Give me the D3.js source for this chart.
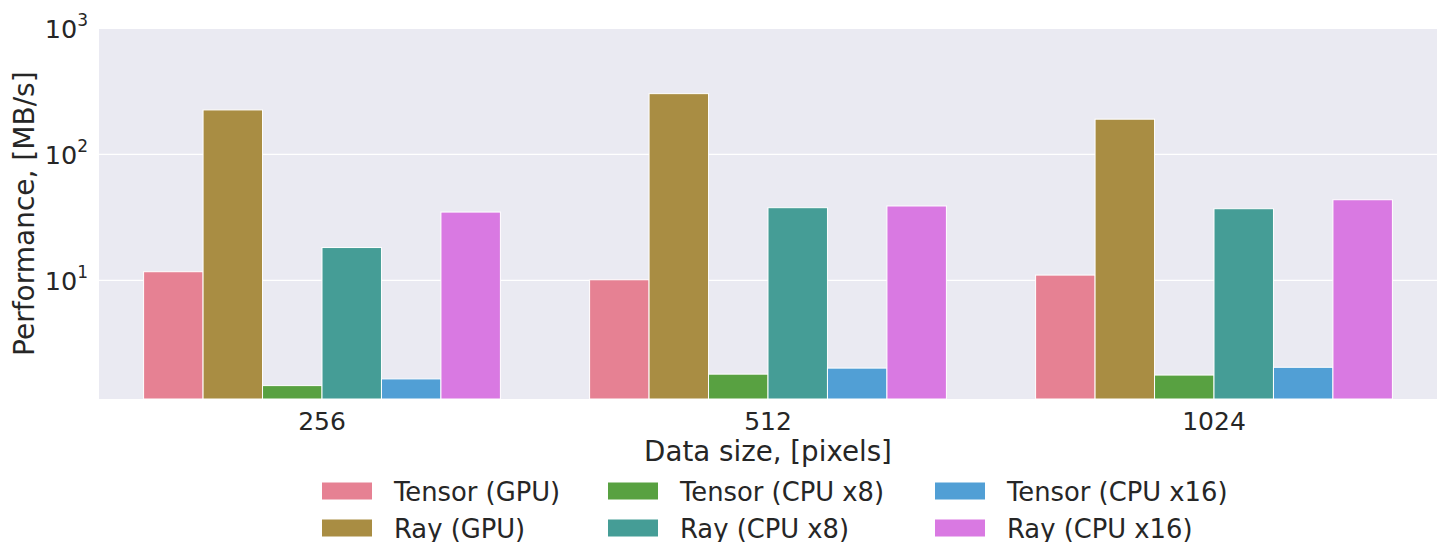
<!DOCTYPE html>
<html>
<head>
<meta charset="utf-8">
<script src="https://cdn.jsdelivr.net/npm/d3@7"></script>
<style>
  html, body { margin: 0; padding: 0; background: #ffffff; }
  svg { display: block; font-family: "DejaVu Sans", sans-serif; }
</style>
</head>
<body>
<svg id="chart" width="1440" height="542"></svg>
<script>
// Data sizes along the x axis
const categories = ["256", "512", "1024"];

// Renderer / device configurations (hue order)
const seriesNames = [
  "Tensor (GPU)", "Ray (GPU)",
  "Tensor (CPU x8)", "Ray (CPU x8)",
  "Tensor (CPU x16)", "Ray (CPU x16)"
];

// Throughput in MB/s, one array per configuration, indexed like categories
const tensorGPU   = [11.7, 10.1, 11.0];
const rayGPU      = [225, 303, 190];
const tensorCPU8  = [1.46, 1.80, 1.77];
const rayCPU8     = [18.2, 37.7, 37.0];
const tensorCPU16 = [1.65, 2.01, 2.04];
const rayCPU16    = [34.8, 38.9, 43.6];

const seriesValues = [tensorGPU, rayGPU, tensorCPU8, rayCPU8, tensorCPU16, rayCPU16];

// Log-axis tick values and labels (exponents)
const yTicks = [10, 100, 1000];
const yTickExponents = ["1", "2", "3"];

const colors = ["#e68193", "#a98d43", "#58a141", "#459d96", "#519fd5", "#d979e2"];

const svg = d3.select("#chart");
const plot = { left: 99, right: 1437, top: 28.3, bottom: 399 };

const x = d3.scaleBand()
  .domain(categories)
  .range([plot.left, plot.right])
  .paddingInner(0.2)
  .paddingOuter(0.1);

const xInner = d3.scaleBand()
  .domain(seriesNames)
  .range([0, x.bandwidth()]);

const y = d3.scaleLog()
  .domain([1.143, 1000])
  .range([plot.bottom, plot.top]);

const color = d3.scaleOrdinal().domain(seriesNames).range(colors);

// Plot background
svg.append("rect")
  .attr("x", plot.left).attr("y", plot.top)
  .attr("width", plot.right - plot.left)
  .attr("height", plot.bottom - plot.top)
  .attr("fill", "#eaeaf2");

// Horizontal grid lines at the decades
svg.append("g")
  .selectAll("line")
  .data(yTicks)
  .join("line")
  .attr("x1", plot.left).attr("x2", plot.right)
  .attr("y1", d => y(d)).attr("y2", d => y(d))
  .attr("stroke", "#ffffff")
  .attr("stroke-width", 1.3);

// Bars
const rows = [];
categories.forEach((c, ci) => {
  seriesNames.forEach((s, si) => {
    rows.push({ category: c, series: s, value: seriesValues[si][ci] });
  });
});

svg.append("g")
  .selectAll("rect")
  .data(rows)
  .join("rect")
  .attr("x", d => x(d.category) + xInner(d.series))
  .attr("y", d => y(d.value))
  .attr("width", xInner.bandwidth())
  .attr("height", d => plot.bottom - y(d.value))
  .attr("fill", d => color(d.series))
  .attr("stroke", "#ffffff")
  .attr("stroke-width", 1);

const textColor = "#262626";

// X axis tick labels
svg.append("g")
  .selectAll("text")
  .data(categories)
  .join("text")
  .attr("x", d => x(d) + x.bandwidth() / 2)
  .attr("y", 430)
  .attr("text-anchor", "middle")
  .attr("font-size", 25)
  .attr("fill", textColor)
  .text(d => d);

// Y axis tick labels as powers of ten
const yt = svg.append("g")
  .selectAll("text")
  .data(yTicks)
  .join("text")
  .attr("x", 88)
  .attr("y", d => y(d) + 10)
  .attr("text-anchor", "end")
  .attr("font-size", 25.5)
  .attr("fill", textColor);
yt.append("tspan").text("10");
yt.append("tspan")
  .attr("dy", -12)
  .attr("font-size", 17)
  .text((d, i) => yTickExponents[i]);

// Axis titles
svg.append("text")
  .attr("x", x("512") + x.bandwidth() / 2)
  .attr("y", 461)
  .attr("text-anchor", "middle")
  .attr("font-size", 27.7)
  .attr("fill", textColor)
  .text("Data size, [pixels]");

svg.append("text")
  .attr("transform", `translate(34, ${(plot.top + plot.bottom) / 2}) rotate(-90)`)
  .attr("text-anchor", "middle")
  .attr("font-size", 28)
  .attr("fill", textColor)
  .text("Performance, [MB/s]");

// Legend: three columns, two rows, filled column by column
const legendCols = [322, 608, 935];
const legendRows = [491, 528];
const legend = svg.append("g")
  .selectAll("g")
  .data(seriesNames)
  .join("g")
  .attr("transform", (d, i) =>
    `translate(${legendCols[Math.floor(i / 2)]}, ${legendRows[i % 2]})`);

legend.append("rect")
  .attr("x", 0).attr("y", -8.5)
  .attr("width", 50).attr("height", 17)
  .attr("fill", d => color(d));

legend.append("text")
  .attr("x", 72)
  .attr("y", 9.5)
  .attr("font-size", 25.8)
  .attr("fill", textColor)
  .text(d => d);
</script>
</body>
</html>
